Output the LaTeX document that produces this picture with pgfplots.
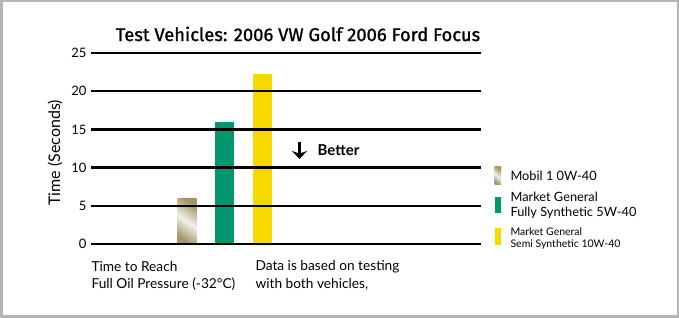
\documentclass[border=0pt]{standalone}
\usepackage{pgfplots}
\pgfplotsset{compat=1.18}
\usepackage{fontspec}
\setmainfont{Lato}
\newfontfamily\titlefont{Fira Sans}[FakeBold=1.2]
\usetikzlibrary{arrows.meta}
\definecolor{goldA}{RGB}{163,150,104}
\definecolor{greenA}{RGB}{0,150,110}
\definecolor{yellowA}{RGB}{245,217,0}
\definecolor{frameA}{RGB}{180,180,180}
\begin{document}
\begin{tikzpicture}[x=1pt,y=1pt]
\useasboundingbox (0,0) rectangle (679,318);
\draw[frameA, line width=2.5pt] (1.25,1.25) rectangle (677.75,316.75);
\begin{axis}[
  at={(91pt,74pt)}, anchor=south west,
  scale only axis, width=390pt, height=191pt,
  xmin=91, xmax=481, ymin=0, ymax=25,
  axis line style={draw=none},
  xtick=\empty,
  ytick={0,5,10,15,20,25},
  major tick length=0pt,
  ymajorgrids,
  grid style={black, line width=2.3pt},
  axis on top,
  clip=false,
  /pgf/number format/assume math mode=true,
  yticklabel style={font=\fontsize{13}{13}\selectfont, xshift=-1pt},
  ybar, bar width=19, bar shift=0pt,
]
\addplot[draw=none, top color=goldA, bottom color=goldA, middle color=white!85!goldA, shading angle=-35] coordinates {(187,5.9)};
\addplot[draw=none, fill=greenA] coordinates {(224.5,16)};
\addplot[draw=none, fill=yellowA] coordinates {(262,22.3)};
\end{axis}
% title
\node[font=\titlefont\fontsize{18.4}{18.4}\selectfont] at (298,284) {Test Vehicles: 2006 VW Golf 2006 Ford Focus};
% y label
\node[rotate=90, font=\fontsize{16}{16}\selectfont] at (55,165) {Time (Seconds)};
% better
\draw[-{Stealth[length=8pt,width=15pt]}, line width=3.5pt] (299.5,176) -- (299.5,159);
\node[anchor=west, font=\bfseries\fontsize{15}{15}\selectfont] at (314,167.5) {Better};
% bottom text
\node[anchor=west, font=\fontsize{13.7}{13.7}\selectfont] at (88,51.5) {Time to Reach};
\node[anchor=west, font=\fontsize{13.7}{13.7}\selectfont] at (88,33.5) {Full Oil Pressure (-32°C)};
\node[anchor=west, font=\fontsize{13.7}{13.7}\selectfont] at (252,51.5) {Data is based on testing};
\node[anchor=west, font=\fontsize{13.7}{13.7}\selectfont] at (252,33.5) {with both vehicles,};
% legend
\path[top color=goldA, bottom color=goldA, middle color=white!85!goldA, shading angle=-35] (494.5,133) rectangle (501,151);
\fill[greenA] (494.5,105) rectangle (501,121);
\fill[yellowA] (494.5,73) rectangle (501,90);
\node[anchor=west, font=\fontsize{12.8}{12.8}\selectfont] at (507,142.3) {Mobil 1 0W-40};
\node[anchor=west, font=\fontsize{12.8}{12.8}\selectfont] at (507,121.3) {Market General};
\node[anchor=west, font=\fontsize{12.8}{12.8}\selectfont] at (507,105.3) {Fully Synthetic 5W-40};
\node[anchor=west, font=\fontsize{10.5}{10.5}\selectfont] at (507,86) {Market General};
\node[anchor=west, font=\fontsize{10.5}{10.5}\selectfont] at (507,73) {Semi Synthetic 10W-40};
\end{tikzpicture}
\end{document}
